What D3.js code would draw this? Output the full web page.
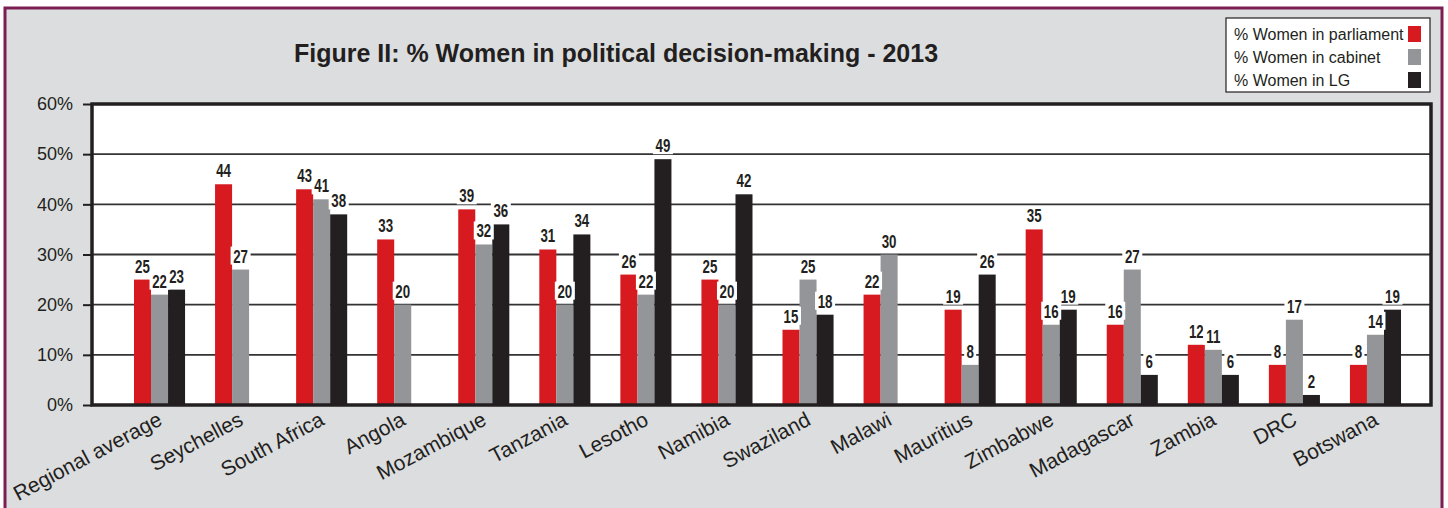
<!DOCTYPE html>
<html>
<head>
<meta charset="utf-8">
<script src="https://cdn.jsdelivr.net/npm/d3@7"></script>
<style>
  body { margin: 0; background: #fff; }
  svg { display: block; font-family: "Liberation Sans", Arial, sans-serif; }
</style>
</head>
<body>
<div id="chart"></div>
<script>
var countries = ['Regional average','Seychelles','South Africa','Angola','Mozambique','Tanzania','Lesotho','Namibia','Swaziland','Malawi','Mauritius','Zimbabwe','Madagascar','Zambia','DRC','Botswana'];
var parliament = [25, 44, 43, 33, 39, 31, 26, 25, 15, 22, 19, 35, 16, 12, 8, 8];
var cabinet    = [22, 27, 41, 20, 32, 20, 22, 20, 25, 30, 8, 16, 27, 11, 17, 14];
var lg         = [23, null, 38, null, 36, 34, 49, 42, 18, null, 26, 19, 6, 6, 2, 19];
var seriesNames = ['% Women in parliament', '% Women in cabinet', '% Women in LG'];
var seriesColors = ['#d71920', '#939598', '#231f20'];
var yTicks = [0, 10, 20, 30, 40, 50, 60];

var width = 1448, height = 508;
var plot = {left: 92, right: 1431, top: 104, bottom: 405};

var svg = d3.select('#chart').append('svg')
  .attr('width', width)
  .attr('height', height);

// panel background + purple border
svg.append('rect')
  .attr('x', 5).attr('y', 8)
  .attr('width', 1437).attr('height', 520)
  .attr('fill', '#dcdddf')
  .attr('stroke', '#7b1f52')
  .attr('stroke-width', 3);

svg.append('text')
  .attr('x', 616).attr('y', 62)
  .attr('text-anchor', 'middle')
  .style('font-size', '25px')
  .style('font-weight', 'bold')
  .attr('fill', '#231f20')
  .text('Figure II: % Women in political decision-making - 2013');

var yScale = d3.scaleLinear()
  .domain([0, 60])
  .range([plot.bottom, plot.top]);

var xScale = d3.scaleBand()
  .domain(countries)
  .range([plot.left + 27, plot.right - 15])
  .paddingInner(0.37)
  .paddingOuter(0.185);

var sub = d3.scaleBand()
  .domain([0, 1, 2])
  .range([0, xScale.bandwidth()]);

svg.append('rect')
  .attr('x', plot.left).attr('y', plot.top)
  .attr('width', plot.right - plot.left)
  .attr('height', plot.bottom - plot.top)
  .attr('fill', '#fff');

// y axis with ticks pointing out, gridlines across
var yAxis = d3.axisLeft(yScale)
  .tickValues(yTicks)
  .tickSize(9)
  .tickPadding(10)
  .tickFormat(function(d){ return d + '%'; });

var yRuler = svg.append('g')
  .attr('transform', 'translate(' + plot.left + ',0)')
  .call(yAxis);
yRuler.select('.domain').remove();
yRuler.selectAll('line').attr('stroke', '#231f20').attr('stroke-width', 2);
yRuler.selectAll('text')
  .style('font-size', '18px')
  .style('font-family', '"Liberation Sans", Arial, sans-serif')
  .attr('fill', '#231f20');

svg.append('g').selectAll('line')
  .data(yTicks.slice(1, -1))
  .enter().append('line')
  .attr('x1', plot.left).attr('x2', plot.right)
  .attr('y1', function(d){ return yScale(d); })
  .attr('y2', function(d){ return yScale(d); })
  .attr('stroke', '#333335')
  .attr('stroke-width', 1.8);

// bars
var bars = [];
countries.forEach(function(c, i){
  [parliament[i], cabinet[i], lg[i]].forEach(function(v, s){
    if (v !== null) bars.push({country: c, s: s, v: v});
  });
});

svg.append('g').selectAll('rect')
  .data(bars)
  .enter().append('rect')
  .attr('x', function(d){ return xScale(d.country) + sub(d.s); })
  .attr('width', sub.bandwidth())
  .attr('y', function(d){ return yScale(d.v); })
  .attr('height', function(d){ return plot.bottom - yScale(d.v); })
  .attr('fill', function(d){ return seriesColors[d.s]; });

// value labels with white backing, condensed bold
var labels = svg.append('g').selectAll('g')
  .data(bars)
  .enter().append('g')
  .attr('transform', function(d){
    return 'translate(' + (xScale(d.country) + sub(d.s) + sub.bandwidth() / 2) + ',' + (yScale(d.v) - 7) + ')';
  });
labels.append('rect')
  .attr('x', function(d){ return d.v < 10 ? -6 : -10; })
  .attr('y', -16)
  .attr('width', function(d){ return d.v < 10 ? 12 : 20; })
  .attr('height', 18)
  .attr('fill', '#fff');
labels.append('text')
  .attr('text-anchor', 'middle')
  .attr('transform', 'scale(0.74,1)')
  .style('font-size', '18px')
  .style('font-weight', 'bold')
  .attr('fill', '#231f20')
  .text(function(d){ return d.v; });

// frame
svg.append('rect')
  .attr('x', plot.left).attr('y', plot.top)
  .attr('width', plot.right - plot.left)
  .attr('height', plot.bottom - plot.top)
  .attr('fill', 'none')
  .attr('stroke', '#231f20')
  .attr('stroke-width', 3.5);

// x labels
svg.append('g').selectAll('text')
  .data(countries)
  .enter().append('text')
  .attr('transform', function(d){
    return 'translate(' + (xScale(d) + xScale.bandwidth() / 2 + 4) + ',424) rotate(-28)';
  })
  .attr('text-anchor', 'end')
  .style('font-size', '21px')
  .attr('fill', '#231f20')
  .text(function(d){ return d; });

// legend
var legend = svg.append('g').attr('transform', 'translate(1226,18)');
legend.append('rect')
  .attr('width', 204).attr('height', 74)
  .attr('fill', '#fff')
  .attr('stroke', '#231f20')
  .attr('stroke-width', 1.2);
var items = legend.selectAll('g.item')
  .data(seriesNames)
  .enter().append('g')
  .attr('class', 'item')
  .attr('transform', function(d, i){ return 'translate(0,' + (8 + i * 23) + ')'; });
items.append('rect')
  .attr('x', 182).attr('width', 13).attr('height', 16)
  .attr('fill', function(d, i){ return seriesColors[i]; });
items.append('text')
  .attr('x', 8).attr('y', 14)
  .style('font-size', '16px')
  .attr('fill', '#231f20')
  .text(function(d){ return d; });
</script>
</body>
</html>
